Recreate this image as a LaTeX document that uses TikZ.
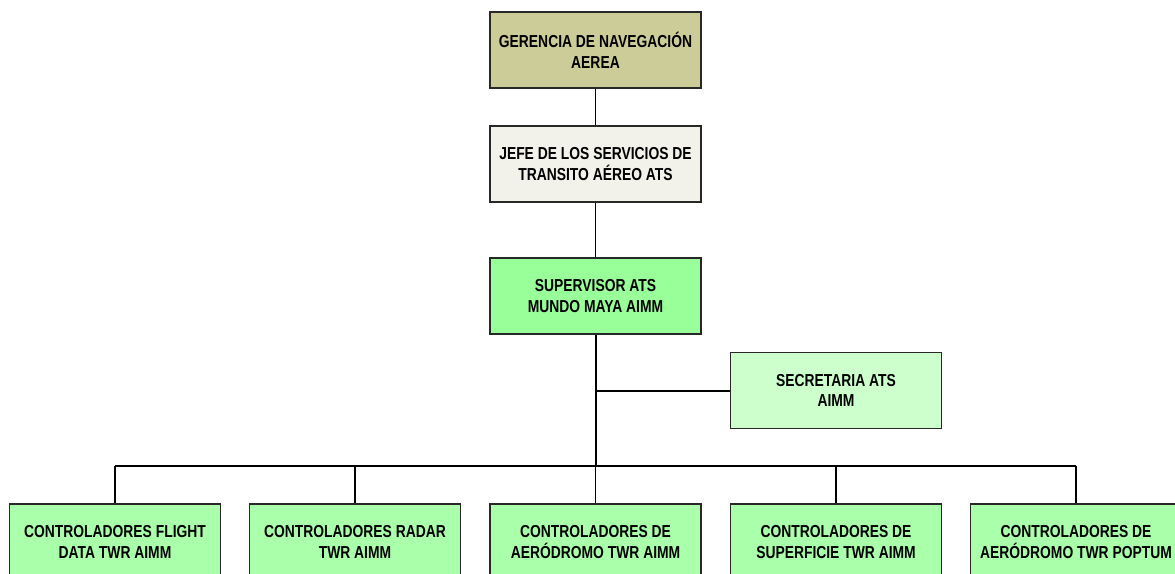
\documentclass[tikz,border=0pt]{standalone}
\usepackage{fontspec}
\setmainfont{Liberation Sans}[FakeStretch=0.8,BoldFeatures={FakeStretch=0.8}]
\definecolor{khaki}{RGB}{204,204,153}
\definecolor{jefe}{RGB}{242,242,234}
\definecolor{sup}{RGB}{153,255,153}
\definecolor{sec}{RGB}{204,255,204}
\definecolor{ctl}{RGB}{170,255,170}
\definecolor{edge}{RGB}{40,40,40}
\tikzset{
  orgbox/.style={draw=edge, line width=1.2pt, minimum width=158.25pt, minimum height=57pt,
    align=center, inner sep=2pt, font=\bfseries\fontsize{13}{15.5}\selectfont},
  conn/.style={draw=black, line width=0.8pt},
  thick conn/.style={draw=black, line width=1.5pt}
}
\begin{document}
\begin{tikzpicture}[x=0.75pt,y=-0.75pt]
\useasboundingbox (0,0) rectangle (1175,574);
\clip (0,0) rectangle (1175,574);
\node[orgbox, fill=khaki] (ger) at (595.5,50) {GERENCIA DE NAVEGACIÓN\\AEREA};
\node[orgbox, fill=jefe] (jefe) at (595.5,164) {JEFE DE LOS SERVICIOS DE\\TRANSITO AÉREO ATS};
\node[orgbox, fill=sup] (sup) at (595.5,296) {SUPERVISOR ATS\\MUNDO MAYA AIMM};
\node[orgbox, fill=sec] (sec) at (836,390.5) {SECRETARIA ATS\\AIMM};
\node[orgbox, fill=ctl] (c1) at (115,542) {CONTROLADORES FLIGHT\\DATA TWR AIMM};
\node[orgbox, fill=ctl] (c2) at (355,542) {CONTROLADORES RADAR\\TWR AIMM};
\node[orgbox, fill=ctl] (c3) at (595.5,542) {CONTROLADORES DE\\AERÓDROMO TWR AIMM};
\node[orgbox, fill=ctl] (c4) at (836,542) {CONTROLADORES DE\\SUPERFICIE TWR AIMM};
\node[orgbox, fill=ctl] (c5) at (1076,542) {CONTROLADORES DE\\AERÓDROMO TWR POPTUM};
\coordinate (bar) at (595.5,466);
\coordinate (secj) at (595.5,391);
\draw[conn] (ger.south) -- (jefe.north);
\draw[conn] (jefe.south) -- (sup.north);
\draw[thick conn] (sup.south) -- (bar);
\draw[conn] (secj) -- (sec.west |- secj);
\draw[thick conn] (c1.north |- bar) -- (c5.north |- bar);
\foreach \c in {c1,c2,c3,c4,c5} \draw[conn] (\c.north |- bar) -- (\c.north);
\end{tikzpicture}
\end{document}
